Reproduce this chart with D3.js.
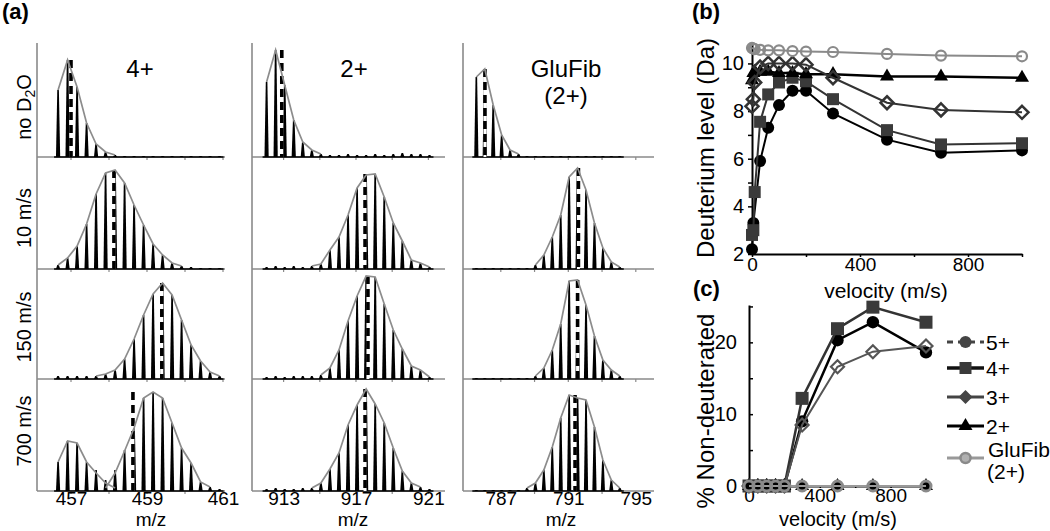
<!DOCTYPE html>
<html><head><meta charset="utf-8">
<script src="https://cdn.jsdelivr.net/npm/d3@7"></script>
<style>
body{margin:0;background:#fff;}
svg{display:block;font-family:"Liberation Sans",Arial,Helvetica,sans-serif;}
</style></head><body>
<svg id="chart" width="1050" height="531"></svg>
<script>
// ================= DATA =================
// Panel (a): mass spectra, isotope peak intensities (% of panel height), one value per isotope position
const rowLabels = ["no D2O", "10 m/s", "150 m/s", "700 m/s"];
const ionTitles = [["4+"], ["2+"], ["GluFib", "(2+)"]];
const mzTicks = [[457, 459, 461], [913, 917, 921], [787, 791, 795]];
const mzMinorStep = [1, 2, 2];
const firstPeakMz = [456.66, 912.06, 785.55];
const isotopeStep = [0.25, 0.5, 0.5];

const ion4_noD2O     = [67,97,70,34,13,5,2,1,1,1,1,1,1,1,1,1,1,1];
const ion4_10        = [4,11,23,45,75,96,99,86,64,44,25,14,6,3,2,1,1,1];
const ion4_150       = [3,3,3,3,3,5,9,20,40,64,85,96,84,59,34,18,7,3];
const ion4_700_low   = [29,50,48,29,18,8,3,1,0,0,0,0,0,0,0,0,0,0];
const ion4_700_high  = [0,0,0,0,3,3,18,40,63,93,99,93,68,43,28,9,4,2];
const ion2_noD2O     = [75,107,72,37,15,7,3,2,2,3,2,2,3,2,3,4,3,3,2];
const ion2_10        = [2,3,2,3,2,3,5,19,32,54,81,94,95,72,46,28,9,6,2];
const ion2_150       = [2,3,2,3,3,3,4,11,29,58,83,103,102,75,49,30,13,9,2];
const ion2_700       = [2,3,2,2,3,3,8,22,38,66,86,102,87,68,43,20,8,4,2];
const gluFib_noD2O   = [80,88,52,22,7,3,1,1,1,1,1,1,1,1,1,1,1,1];
const gluFib_10      = [1,1,1,1,1,1,1,4,14,32,54,92,101,79,46,21,7,2];
const gluFib_150     = [1,1,1,1,1,1,1,3,11,29,55,98,99,74,43,19,9,3];
const gluFib_700     = [1,1,1,1,1,1,3,8,21,44,73,96,93,91,64,31,11,3];
const centroid4      = [457.0, 458.13, 459.39, 458.63];
const centroid2      = [912.9, 917.5, 917.66, 917.5];
const centroidGluFib = [786.06, 791.6, 791.55, 791.4];

// Panel (b): deuterium level (Da) vs velocity (m/s)
const velocityB = [0, 5, 10, 30, 60, 100, 150, 200, 300, 500, 700, 1000];
const deut5  = [2.2, 3.3, null, 5.9, 7.3, 8.25, 8.85, 8.85, 7.9, 6.8, 6.25, 6.35];
const deut4  = [2.8, 3.0, 4.6, 7.55, 8.7, 9.2, 9.4, 9.25, 8.5, 7.2, 6.6, 6.65];
const deut3  = [8.2, 8.5, 9.2, 9.85, 10.0, 10.0, 10.0, 9.95, 9.4, 8.35, 8.05, 7.95];
const deut2  = [9.3, 9.6, 9.65, 9.65, 9.65, 9.6, 9.6, 9.55, 9.55, 9.45, 9.45, 9.4];
const deutGF = [10.65, 10.62, 10.6, 10.57, 10.55, 10.55, 10.52, 10.5, 10.48, 10.4, 10.33, 10.3];
const yTicksB = [2, 4, 6, 8, 10];
const xTicksB = [0, 400, 800];

// Panel (c): % non-deuterated vs velocity (m/s)
const velocityC = [0, 50, 100, 150, 200, 300, 500, 700, 1000];
const nonD5  = [0, 0, 0, 0, 0, 9.0, 20.3, 22.8, 18.6];
const nonD4  = [0, 0, 0, 0, 0, 12.2, 21.9, 24.9, 22.8];
const nonD3  = [0, 0, 0, 0, 0, 8.5, 16.6, 18.7, 19.5];
const nonD2  = [0, 0, 0, 0, 0, 0, 0, 0, 0];
const nonDGF = [0, 0, 0, 0, 0, 0, 0, 0, 0];
const yTicksC = [0, 10, 20];
const xTicksC = [0, 400, 800];
const legendLabels = ["5+", "4+", "3+", "2+", "GluFib"];

// ================= DRAWING =================
const svg = d3.select("#chart");
const FONT_TICK = 20;

function marker(g, type, x, y, s, fill, stroke, sw) {
  let p;
  if (type === "circle") p = d3.symbol(d3.symbolCircle, Math.PI * s * s)();
  else if (type === "square") p = d3.symbol(d3.symbolSquare, s * s)();
  else if (type === "triangle") p = d3.symbol(d3.symbolTriangle, s * s * Math.sqrt(3) / 4)();
  else p = `M0,${-s/2}L${s/2},0L0,${s/2}L${-s/2},0Z`;
  g.append("path").attr("d", p).attr("transform", `translate(${x},${y})`)
    .attr("fill", fill).attr("stroke", stroke || "none").attr("stroke-width", sw || 0);
}

// ---------- Panel (a) ----------
const spectra = [
  [[ion4_noD2O], [ion4_10], [ion4_150], [ion4_700_low, ion4_700_high]],
  [[ion2_noD2O], [ion2_10], [ion2_150], [ion2_700]],
  [[gluFib_noD2O], [gluFib_10], [gluFib_150], [gluFib_700]]
];
const centroids = [centroid4, centroid2, centroidGluFib];
const colAxisX = [37, 252, 463], colEndX = [225, 445, 654];
const colRange = [[71, 223], [283.6, 428.4], [500.8, 635.8]];
const rowBase = [157, 269, 379, 491];
const axisTop = 43;
const gA = svg.append("g");

gA.append("text").attr("x", 2).attr("y", 19).attr("font-size", 22).attr("font-weight", "bold").text("(a)");

const rowLabelY = [107, 218, 327, 431];
rowLabels.forEach((lab, r) => {
  const t = gA.append("text").attr("transform", `translate(31,${rowLabelY[r]}) rotate(-90)`)
    .attr("text-anchor", "middle").attr("font-size", 20);
  if (lab.indexOf("D2O") >= 0) {
    t.append("tspan").text("no D");
    t.append("tspan").attr("dy", 4).attr("font-size", 14).text("2");
    t.append("tspan").attr("dy", -4).text("O");
  } else t.text(lab);
});

const titleX = [140, 354, 566];
ionTitles.forEach((lines, c) => {
  lines.forEach((l, i) => gA.append("text").attr("x", titleX[c]).attr("y", 77 + i * 27)
    .attr("text-anchor", "middle").attr("font-size", 24).text(l));
});

const mzLabelX = [151, 353, 561];

spectra.forEach((rows, c) => {
  const xs = d3.scaleLinear().domain([mzTicks[c][0], mzTicks[c][2]]).range(colRange[c]);
  gA.append("line").attr("x1", colAxisX[c]).attr("x2", colAxisX[c]).attr("y1", axisTop).attr("y2", rowBase[3])
    .attr("stroke", "#8a8a8a").attr("stroke-width", 1.6);
  rows.forEach((comps, r) => {
    const base = rowBase[r];
    const ys = d3.scaleLinear().domain([0, 100]).range([base, base - 100]);
    const n = comps[0].length;
    const mzOf = k => firstPeakMz[c] + isotopeStep[c] * k;
    const total = d3.range(n).map(k => d3.sum(comps, a => a[k]));
    gA.append("line").attr("x1", colAxisX[c]).attr("x2", colEndX[c]).attr("y1", base).attr("y2", base)
      .attr("stroke", "#8a8a8a").attr("stroke-width", 1.6);
    const minor = d3.range(mzTicks[c][0], mzTicks[c][2] + 0.01, mzMinorStep[c]);
    gA.selectAll(null).data(minor).enter().append("line")
      .attr("x1", d => xs(d)).attr("x2", d => xs(d)).attr("y1", base).attr("y2", base + 3)
      .attr("stroke", "#8a8a8a").attr("stroke-width", 1.2);
    gA.append("line").attr("x1", xs(mzOf(0)) - 4).attr("x2", xs(mzOf(n - 1)) + 4)
      .attr("y1", base).attr("y2", base).attr("stroke", "#000").attr("stroke-width", 1.6);
    gA.selectAll(null).data(total.map((v, k) => ({v, k})).filter(d => d.v > 0)).enter().append("path")
      .attr("d", d => {
        const x = xs(mzOf(d.k)), yt = ys(d.v);
        return `M${x - 2.1},${base}L${x - 0.8},${yt}L${x + 0.8},${yt}L${x + 2.1},${base}Z`;
      }).attr("fill", "#000");
    const cx = xs(centroids[c][r]);
    const topY = ys(d3.max(total));
    gA.append("line").attr("x1", cx).attr("x2", cx).attr("y1", base).attr("y2", topY)
      .attr("stroke", "#fff").attr("stroke-width", 3);
    gA.append("line").attr("x1", cx).attr("x2", cx).attr("y1", topY).attr("y2", base)
      .attr("stroke", "#000").attr("stroke-width", 3.6).attr("stroke-dasharray", "8,5");
    comps.forEach(a => {
      const im = d3.maxIndex(a);
      let lo = im, hi = im;
      while (lo > 0 && a[lo - 1] >= 5) lo--;
      if (lo > 0) lo--;
      while (hi < n - 1 && a[hi + 1] >= 5) hi++;
      if (hi < n - 1) hi++;
      const pts = d3.range(lo, hi + 1).map(k => [xs(mzOf(k)), ys(a[k])]);
      gA.append("path").attr("d", d3.line()(pts)).attr("fill", "none")
        .attr("stroke", "#8c8c8c").attr("stroke-width", 1.7);
    });
  });
  const ax = gA.append("g").attr("transform", `translate(0,${rowBase[3]})`)
    .call(d3.axisBottom(xs).tickValues(mzTicks[c]).tickSize(0).tickPadding(0).tickFormat(d3.format("d")));
  ax.select(".domain").remove();
  ax.attr("font-size", 19).attr("font-family", null);
  gA.append("text").attr("x", mzLabelX[c]).attr("y", 525.5).attr("text-anchor", "middle")
    .attr("font-size", 19).text("m/z");
});

// ---------- Panel (b) ----------
const gB = svg.append("g");
const xB = d3.scaleLinear().domain([0, 1000]).range([752, 1022]);
const yB = d3.scaleLinear().domain([2, 10.9]).range([254, 42]);
gB.append("text").attr("x", 692).attr("y", 19).attr("font-size", 22).attr("font-weight", "bold").text("(b)");
const axYB = gB.append("g").attr("transform", `translate(${xB(0)},0)`)
  .call(d3.axisLeft(yB).tickValues(d3.range(2, 11, 1)).tickSizeInner(4).tickSizeOuter(0).tickPadding(4)
    .tickFormat(d => yTicksB.includes(d) ? d : ""));
const axXB = gB.append("g").attr("transform", `translate(0,${yB(2)})`)
  .call(d3.axisBottom(xB).tickValues(d3.range(0, 1001, 200)).tickSizeInner(3).tickSizeOuter(0).tickPadding(1)
    .tickFormat(d => xTicksB.includes(d) ? d : ""));
[axYB, axXB].forEach(a => {
  a.attr("font-size", FONT_TICK).attr("font-family", null);
  a.select(".domain").attr("stroke-width", 2);
  a.selectAll(".tick line").attr("stroke-width", 1.5);
});
axXB.attr("font-size", 19);
gB.append("text").attr("transform", `translate(714,148) rotate(-90)`).attr("text-anchor", "middle")
  .attr("font-size", 24).text("Deuterium level (Da)");
gB.append("text").attr("x", 886).attr("y", 298).attr("text-anchor", "middle")
  .attr("font-size", 21).text("velocity (m/s)");

const seriesB = [
  {vals: deut5, type: "circle", s: 6, fill: "#000", line: "#000", lw: 2},
  {vals: deut4, type: "square", s: 12, fill: "#3a3a3a", line: "#333", lw: 2},
  {vals: deut2, type: "triangle", s: 14, fill: "#000", line: "#000", lw: 2.5},
  {vals: deut3, type: "diamond", s: 13, fill: "none", stroke: "#333", sw: 2.5, line: "#333", lw: 2},
  {vals: deutGF, type: "circle", s: 5, fill: "none", stroke: "#8a8a8a", sw: 2.2, line: "#8a8a8a", lw: 2}
];
seriesB.forEach(s => {
  const pts = velocityB.map((v, i) => [v, s.vals[i]]).filter(d => d[1] != null);
  gB.append("path").attr("d", d3.line().x(d => xB(d[0])).y(d => yB(d[1]))(pts))
    .attr("fill", "none").attr("stroke", s.line).attr("stroke-width", s.lw);
  pts.forEach(d => marker(gB, s.type, xB(d[0]), yB(d[1]), s.s, s.fill, s.stroke, s.sw));
});

// ---------- Panel (c) ----------
const gC = svg.append("g");
const xC = d3.scaleLinear().domain([0, 1030]).range([749, 931.3]);
const yC = d3.scaleLinear().domain([0, 25.2]).range([486, 305]);
gC.append("text").attr("x", 693).attr("y", 296).attr("font-size", 22).attr("font-weight", "bold").text("(c)");
const axYC = gC.append("g").attr("transform", `translate(${xC(0)},0)`)
  .call(d3.axisLeft(yC).tickValues([0, 5, 10, 15, 20, 25]).tickSizeInner(-4).tickSizeOuter(0).tickPadding(12)
    .tickFormat(d => yTicksC.includes(d) ? d : ""));
const axXC = gC.append("g").attr("transform", `translate(0,${yC(0)})`)
  .call(d3.axisBottom(xC).tickValues(d3.range(0, 1001, 200)).tickSizeInner(2).tickSizeOuter(0).tickPadding(0)
    .tickFormat(d => xTicksC.includes(d) ? d : ""));
[axYC, axXC].forEach(a => {
  a.attr("font-size", FONT_TICK).attr("font-family", null);
  a.select(".domain").attr("stroke-width", 2);
  a.selectAll(".tick line").attr("stroke-width", 1.5);
});
axXC.attr("font-size", 19);
gC.append("text").attr("transform", `translate(714,411) rotate(-90)`).attr("text-anchor", "middle")
  .attr("font-size", 24).text("% Non-deuterated");
gC.append("text").attr("x", 838).attr("y", 526).attr("text-anchor", "middle")
  .attr("font-size", 20).text("velocity (m/s)");

const seriesC = [
  {vals: nonD5, type: "circle", s: 6.2, fill: "#000", line: "#000", lw: 2.5},
  {vals: nonD4, type: "square", s: 13, fill: "#3a3a3a", line: "#333", lw: 2.5},
  {vals: nonD3, type: "diamond", s: 13, fill: "none", stroke: "#555", sw: 2.2, line: "#555", lw: 2},
  {vals: nonD2, type: "triangle", s: 14, fill: "#000", line: "#000", lw: 2},
  {vals: nonDGF, type: "circle", s: 5, fill: "none", stroke: "#8a8a8a", sw: 3, line: "#999", lw: 2}
];
seriesC.forEach(s => {
  const pts = velocityC.map((v, i) => [v, s.vals[i]]);
  gC.append("path").attr("d", d3.line().x(d => xC(d[0])).y(d => yC(d[1]))(pts))
    .attr("fill", "none").attr("stroke", s.line).attr("stroke-width", s.lw);
  pts.forEach(d => marker(gC, s.type, xC(d[0]), yC(d[1]), s.s, s.fill, s.stroke, s.sw));
});

// legend
const legY = [342, 368, 397, 426, 458];
const legStyle = [
  {type: "circle", s: 6, fill: "#444", line: "#444", lw: 3, dash: "6,5"},
  {type: "square", s: 12, fill: "#3a3a3a", line: "#111", lw: 3.5},
  {type: "diamond", s: 14, fill: "#444", line: "#444", lw: 3},
  {type: "triangle", s: 14, fill: "#000", line: "#000", lw: 3},
  {type: "circle", s: 5, fill: "#b0b0b0", stroke: "#8a8a8a", sw: 2.5, line: "#999", lw: 3}
];
legendLabels.forEach((lab, i) => {
  const st = legStyle[i], y = legY[i];
  gC.append("line").attr("x1", 947).attr("x2", 984).attr("y1", y).attr("y2", y)
    .attr("stroke", st.line).attr("stroke-width", st.lw).attr("stroke-dasharray", st.dash || null);
  marker(gC, st.type, 965.5, y, st.s, st.fill, st.stroke, st.sw);
  if (i < 4) {
    gC.append("text").attr("x", 986).attr("y", y + 7.5).attr("font-size", 21).text(lab);
  } else {
    gC.append("text").attr("x", 988).attr("y", y - 1).attr("font-size", 21).text(lab);
    gC.append("text").attr("x", 1006).attr("y", y + 21).attr("text-anchor", "middle").attr("font-size", 21).text("(2+)");
  }
});
</script>
</body></html>
